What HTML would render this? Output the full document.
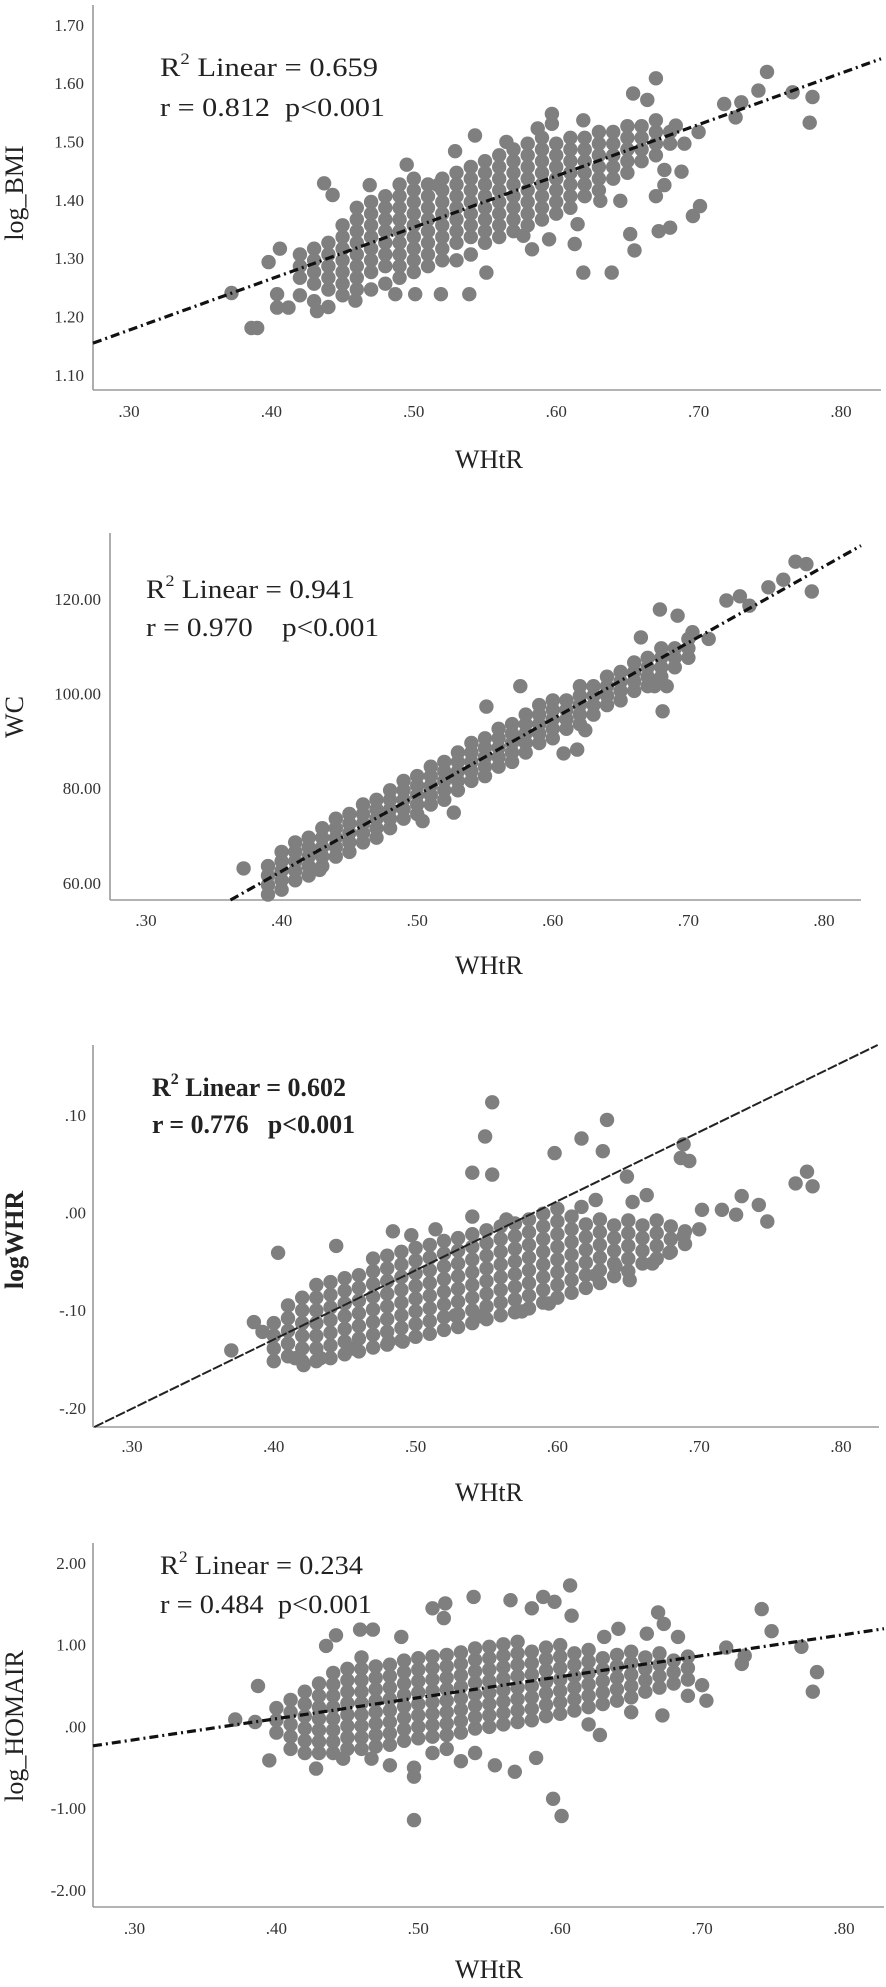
<!DOCTYPE html>
<html><head><meta charset="utf-8">
<style>
html,body{margin:0;padding:0;background:#fff;}
svg{display:block;}
text{font-family:"Liberation Serif",serif;fill:#222;}
.tick{font-size:17px;fill:#333;}
.ttl{font-size:26px;}
.ann{font-size:26px;}
</style></head>
<body>
<svg id="chart" width="886" height="1987" viewBox="0 0 886 1987" xmlns="http://www.w3.org/2000/svg"></svg>
<script>
// ---------- DATA ----------
const xTicks = [0.30,0.40,0.50,0.60,0.70,0.80];
const xTickLabels = [".30",".40",".50",".60",".70",".80"];

const bmiTicks = [1.10,1.20,1.30,1.40,1.50,1.60,1.70];
const bmiTickLabels = ["1.10","1.20","1.30","1.40","1.50","1.60","1.70"];
const bmiFit = [0.916, 0.881];
const bmiCols = [
[0.42,[1.24,1.27,1.29,1.31]],[0.43,[1.23,1.26,1.28,1.30,1.32]],[0.44,[1.22,1.25,1.27,1.29,1.31,1.33]],
[0.45,[1.24,1.26,1.28,1.30,1.32,1.34,1.36]],[0.46,[1.25,1.27,1.29,1.31,1.33,1.35,1.37,1.39]],
[0.47,[1.25,1.28,1.30,1.32,1.34,1.36,1.38,1.40]],[0.48,[1.26,1.29,1.31,1.33,1.35,1.37,1.39,1.41]],
[0.49,[1.27,1.29,1.31,1.33,1.35,1.37,1.39,1.41,1.43]],[0.50,[1.28,1.30,1.32,1.34,1.36,1.38,1.40,1.42,1.44]],
[0.51,[1.29,1.31,1.33,1.35,1.37,1.39,1.41,1.43]],[0.52,[1.30,1.32,1.34,1.36,1.38,1.40,1.42,1.44]],
[0.53,[1.30,1.33,1.35,1.37,1.39,1.41,1.43,1.45]],[0.54,[1.31,1.34,1.36,1.38,1.40,1.42,1.44,1.46]],
[0.55,[1.33,1.35,1.37,1.39,1.41,1.43,1.45,1.47]],[0.56,[1.34,1.36,1.38,1.40,1.42,1.44,1.46,1.48]],
[0.57,[1.35,1.37,1.39,1.41,1.43,1.45,1.47,1.49]],[0.58,[1.36,1.38,1.40,1.42,1.44,1.46,1.48,1.50]],
[0.59,[1.37,1.39,1.41,1.43,1.45,1.47,1.49,1.51]],[0.60,[1.38,1.40,1.42,1.44,1.46,1.48,1.50]],
[0.61,[1.39,1.41,1.43,1.45,1.47,1.49,1.51]],[0.62,[1.41,1.43,1.45,1.47,1.49,1.51]],
[0.63,[1.42,1.44,1.46,1.48,1.50,1.52]],[0.64,[1.44,1.46,1.48,1.50,1.52]],
[0.65,[1.45,1.47,1.49,1.51,1.53]],[0.66,[1.47,1.49,1.51,1.53]],[0.67,[1.48,1.50,1.52,1.54]],[0.68,[1.50,1.52]]
];
const bmiOutliers = [
[0.748,1.623],[0.670,1.612],[0.654,1.586],[0.664,1.575],[0.742,1.591],[0.766,1.588],[0.780,1.580],[0.778,1.536],
[0.718,1.568],[0.730,1.571],[0.726,1.545],[0.597,1.551],[0.619,1.540],[0.543,1.514],[0.565,1.503],[0.684,1.531],
[0.619,1.279],[0.639,1.279],[0.652,1.345],[0.655,1.317],[0.672,1.350],[0.680,1.356],[0.696,1.376],[0.701,1.393],
[0.676,1.429],[0.676,1.455],[0.688,1.452],[0.670,1.410],[0.645,1.402],[0.631,1.402],[0.615,1.362],[0.613,1.328],
[0.595,1.336],[0.583,1.319],[0.577,1.342],[0.551,1.279],[0.539,1.242],[0.519,1.242],[0.501,1.242],[0.487,1.242],
[0.459,1.231],[0.432,1.213],[0.412,1.219],[0.390,1.184],[0.386,1.184],[0.404,1.219],[0.404,1.242],[0.398,1.297],
[0.406,1.320],[0.372,1.244],[0.437,1.432],[0.443,1.412],[0.469,1.429],[0.495,1.464],[0.517,1.429],[0.529,1.487],
[0.587,1.526],[0.597,1.534],[0.690,1.500],[0.700,1.520]
];

const wcTicks = [60,80,100,120];
const wcTickLabels = ["60.00","80.00","100.00","120.00"];
const wcFit = [-1.5, 161];
const wcCols = [
[0.39,[58,60,62,64]],[0.40,[59,61,63,65,67]],[0.41,[61,63,65,67,69]],[0.42,[62,64,66,68,70]],
[0.43,[64,66,68,70,72]],[0.44,[66,68,70,72,74]],[0.45,[67,69,71,73,75]],[0.46,[69,71,73,75,77]],
[0.47,[70,72,74,76,78]],[0.48,[72,74,76,78,80]],[0.49,[74,76,78,80,82]],[0.50,[75,77,79,81,83]],
[0.51,[77,79,81,83,85]],[0.52,[78,80,82,84,86]],[0.53,[80,82,84,86,88]],[0.54,[82,84,86,88,90]],
[0.55,[83,85,87,89,91]],[0.56,[85,87,89,91,93]],[0.57,[86,88,90,92,94]],[0.58,[88,90,92,94,96]],
[0.59,[90,92,94,96,98]],[0.60,[91,93,95,97,99]],[0.61,[93,95,97,99]],[0.62,[94,96,98,100,102]],
[0.63,[96,98,100,102]],[0.64,[98,100,102,104]],[0.65,[99,101,103,105]],[0.66,[101,103,105,107]],
[0.67,[102,104,106,108]],[0.68,[104,106,108,110]],[0.69,[106,108,110]],[0.70,[108,110,112]]
];
const wcOutliers = [
[0.779,128.3],[0.787,127.8],[0.791,122.0],[0.728,120.1],[0.738,121.0],[0.759,122.9],[0.679,118.2],[0.692,116.9],
[0.684,102.0],[0.681,96.7],[0.675,102.0],[0.618,88.6],[0.624,92.7],[0.608,87.8],[0.527,75.3],[0.504,73.5],
[0.428,63.2],[0.372,63.5],[0.551,97.7],[0.576,102.0],[0.715,112.0],[0.703,113.4],[0.665,112.3],[0.745,119.0],[0.770,124.5]
];

const whrTicks = [-0.20,-0.10,0.00,0.10];
const whrTickLabels = ["-.20","-.10",".00",".10"];
const whrFit = [-0.411, 0.708];
const whrCols = [
[0.40,[-0.150,-0.137,-0.124,-0.111]],[0.41,[-0.145,-0.132,-0.119,-0.106,-0.093]],
[0.42,[-0.150,-0.137,-0.124,-0.111,-0.098,-0.085]],[0.43,[-0.150,-0.137,-0.124,-0.111,-0.098,-0.085,-0.072]],
[0.44,[-0.147,-0.134,-0.121,-0.108,-0.095,-0.082,-0.069]],[0.45,[-0.143,-0.130,-0.117,-0.104,-0.091,-0.078,-0.065]],
[0.46,[-0.140,-0.127,-0.114,-0.101,-0.088,-0.075,-0.062]],[0.47,[-0.136,-0.123,-0.110,-0.097,-0.084,-0.071,-0.058,-0.045]],
[0.48,[-0.133,-0.120,-0.107,-0.094,-0.081,-0.068,-0.055,-0.042]],[0.49,[-0.129,-0.116,-0.103,-0.090,-0.077,-0.064,-0.051,-0.038]],
[0.50,[-0.125,-0.112,-0.099,-0.086,-0.073,-0.060,-0.047,-0.034]],[0.51,[-0.122,-0.109,-0.096,-0.083,-0.070,-0.057,-0.044,-0.031]],
[0.52,[-0.118,-0.105,-0.092,-0.079,-0.066,-0.053,-0.040,-0.027]],[0.53,[-0.115,-0.102,-0.089,-0.076,-0.063,-0.050,-0.037,-0.024]],
[0.54,[-0.111,-0.098,-0.085,-0.072,-0.059,-0.046,-0.033,-0.020]],[0.55,[-0.107,-0.094,-0.081,-0.068,-0.055,-0.042,-0.029,-0.016]],
[0.56,[-0.103,-0.090,-0.077,-0.064,-0.051,-0.038,-0.025,-0.012]],[0.57,[-0.100,-0.087,-0.074,-0.061,-0.048,-0.035,-0.022,-0.009]],
[0.58,[-0.096,-0.083,-0.070,-0.057,-0.044,-0.031,-0.018,-0.005]],[0.59,[-0.090,-0.077,-0.064,-0.051,-0.038,-0.025,-0.012,0.001]],
[0.60,[-0.085,-0.072,-0.059,-0.046,-0.033,-0.020,-0.007,0.006]],[0.61,[-0.080,-0.067,-0.054,-0.041,-0.028,-0.015,-0.002]],
[0.62,[-0.075,-0.062,-0.049,-0.036,-0.023,-0.010]],[0.63,[-0.070,-0.057,-0.044,-0.031,-0.018,-0.005]],
[0.64,[-0.063,-0.050,-0.037,-0.024,-0.011]],[0.65,[-0.058,-0.045,-0.032,-0.019,-0.006]],
[0.66,[-0.050,-0.037,-0.024,-0.011]],[0.67,[-0.045,-0.032,-0.019,-0.006]],[0.68,[-0.038,-0.025,-0.012]],[0.69,[-0.030,-0.017]]
];
const whrOutliers = [
[0.554,0.115],[0.635,0.097],[0.549,0.080],[0.617,0.078],[0.598,0.063],[0.632,0.065],[0.540,0.043],[0.554,0.041],
[0.689,0.072],[0.687,0.058],[0.693,0.055],[0.649,0.039],[0.776,0.044],[0.768,0.032],[0.780,0.029],[0.730,0.019],
[0.742,0.010],[0.748,-0.007],[0.702,0.005],[0.716,0.005],[0.726,0.000],[0.700,-0.015],[0.663,0.020],[0.653,0.013],
[0.627,0.015],[0.617,0.008],[0.403,-0.039],[0.444,-0.032],[0.370,-0.139],[0.386,-0.110],[0.421,-0.154],[0.433,-0.147],
[0.540,-0.002],[0.564,-0.005],[0.514,-0.015],[0.497,-0.021],[0.484,-0.017],[0.528,-0.103],[0.546,-0.104],[0.575,-0.099],
[0.594,-0.091],[0.651,-0.067],[0.641,-0.053],[0.627,-0.062],[0.667,-0.050],[0.679,-0.039],[0.689,-0.022],[0.481,-0.130],
[0.491,-0.130],[0.455,-0.137],[0.392,-0.120],[0.415,-0.147]
];

const homaTicks = [-2,-1,0,1,2];
const homaTickLabels = ["-2.00","-1.00",".00","1.00","2.00"];
const homaFit = [-0.908, 2.57];
const homaCols = [
[0.40,[-0.05,0.10,0.25]],[0.41,[-0.25,-0.10,0.05,0.20,0.35]],[0.42,[-0.30,-0.15,0.00,0.15,0.30,0.45]],
[0.43,[-0.30,-0.16,-0.02,0.12,0.26,0.40,0.55]],[0.44,[-0.30,-0.16,-0.02,0.12,0.26,0.40,0.54,0.68]],
[0.45,[-0.25,-0.11,0.03,0.17,0.31,0.45,0.59,0.73]],[0.46,[-0.25,-0.11,0.03,0.17,0.31,0.45,0.59,0.73,0.87]],
[0.47,[-0.22,-0.08,0.06,0.20,0.34,0.48,0.62,0.76]],[0.48,[-0.20,-0.06,0.08,0.22,0.36,0.50,0.64,0.78]],
[0.49,[-0.15,-0.01,0.13,0.27,0.41,0.55,0.69,0.83]],[0.50,[-0.12,0.02,0.16,0.30,0.44,0.58,0.72,0.86]],
[0.51,[-0.30,-0.10,0.04,0.18,0.32,0.46,0.60,0.74,0.88]],[0.52,[-0.25,-0.08,0.06,0.20,0.34,0.48,0.62,0.76,0.90]],
[0.53,[-0.05,0.09,0.23,0.37,0.51,0.65,0.79,0.93]],[0.54,[0.00,0.14,0.28,0.42,0.56,0.70,0.84,0.98]],
[0.55,[0.02,0.16,0.30,0.44,0.58,0.72,0.86,1.00]],[0.56,[0.05,0.19,0.33,0.47,0.61,0.75,0.89,1.03]],
[0.57,[0.08,0.22,0.36,0.50,0.64,0.78,0.92,1.06]],[0.58,[0.10,0.24,0.38,0.52,0.66,0.80,0.94]],
[0.59,[0.15,0.29,0.43,0.57,0.71,0.85,0.99]],[0.60,[0.18,0.32,0.46,0.60,0.74,0.88,1.02]],
[0.61,[0.22,0.36,0.50,0.64,0.78,0.92]],[0.62,[0.26,0.40,0.54,0.68,0.82,0.96]],
[0.63,[0.30,0.44,0.58,0.72,0.86]],[0.64,[0.34,0.48,0.62,0.76,0.90]],[0.65,[0.38,0.52,0.66,0.80,0.94]],
[0.66,[0.45,0.59,0.73,0.87]],[0.67,[0.50,0.64,0.78,0.92]],[0.68,[0.55,0.69,0.83]],[0.69,[0.60,0.74,0.88]]
];
const homaOutliers = [
[0.607,1.75],[0.539,1.61],[0.565,1.57],[0.588,1.61],[0.596,1.55],[0.580,1.47],[0.510,1.47],[0.519,1.53],
[0.518,1.35],[0.608,1.38],[0.669,1.42],[0.673,1.28],[0.742,1.46],[0.749,1.19],[0.770,1.00],[0.781,0.69],
[0.778,0.45],[0.730,0.89],[0.728,0.79],[0.717,0.99],[0.703,0.34],[0.700,0.53],[0.672,0.16],[0.628,-0.08],
[0.583,-0.36],[0.568,-0.53],[0.554,-0.45],[0.497,-0.48],[0.497,-0.59],[0.595,-0.86],[0.601,-1.07],[0.497,-1.12],
[0.395,-0.39],[0.428,-0.49],[0.387,0.52],[0.371,0.11],[0.385,0.08],[0.447,-0.37],[0.467,-0.37],[0.459,1.21],
[0.468,1.21],[0.435,1.01],[0.442,1.14],[0.488,1.12],[0.641,1.22],[0.631,1.12],[0.683,1.12],[0.661,1.16],
[0.530,-0.40],[0.540,-0.30],[0.480,-0.45],[0.620,0.05],[0.650,0.20],[0.690,0.40]
];

// ---------- RENDER ----------
const NS = "http://www.w3.org/2000/svg";
const svg = document.getElementById("chart");
function mk(tag, attrs, parent){
  const e = document.createElementNS(NS, tag);
  for (const k in attrs) e.setAttribute(k, attrs[k]);
  (parent||svg).appendChild(e);
  return e;
}
function linScale(d0,d1,r0,r1){ return v => r0 + (v-d0)*(r1-r0)/(d1-d0); }

function panel(cfg){
  const g = mk("g", {});
  
  
  const sx = linScale(0.30,0.80,cfg.x30,cfg.x80);
  const sy = linScale(cfg.yv0,cfg.yv1,cfg.yp0,cfg.yp1);
  const ya = mk("line",{x1:cfg.left,y1:cfg.top,x2:cfg.left,y2:cfg.bottom,stroke:"#9a9a9a","stroke-width":1.6},g);
  
  
  const xa = mk("line",{x1:cfg.left,y1:cfg.bottom,x2:cfg.right,y2:cfg.bottom,stroke:"#9a9a9a","stroke-width":1.6},g);
  
  
  xTicks.forEach((t,i)=>{
    const tx = mk("text",{x:sx(t),y:cfg.xlabY,"text-anchor":"middle","dominant-baseline":"middle",class:"tick"},g);
    tx.textContent = xTickLabels[i];
    
    
  });
  cfg.yTicks.forEach((t,i)=>{
    const ty = mk("text",{x:cfg.ylabX,y:sy(t),"text-anchor":"end","dominant-baseline":"middle",class:"tick"},g);
    ty.textContent = cfg.yLabels[i];
    
    
  });
  const pts = [];
  cfg.cols.forEach(c => c[1].forEach(v => pts.push([c[0], v])));
  cfg.outliers.forEach(p => pts.push(p));
  pts.forEach(p=>{
    const c = mk("circle",{cx:sx(p[0]).toFixed(1),cy:sy(p[1]).toFixed(1),r:7.2,fill:"#7f7f7f"},g);
    
    
  });
  let xa0 = (cfg.left - cfg.x30)/(cfg.x80-cfg.x30)*0.5+0.30;
  let xa1 = (cfg.right - cfg.x30)/(cfg.x80-cfg.x30)*0.5+0.30;
  const f = x => cfg.fit[0] + cfg.fit[1]*x;
  const vBottom = cfg.yv0 + (cfg.bottom-cfg.yp0)*(cfg.yv1-cfg.yv0)/(cfg.yp1-cfg.yp0);
  const vTop = cfg.yv0 + (cfg.lineTop-cfg.yp0)*(cfg.yv1-cfg.yv0)/(cfg.yp1-cfg.yp0);
  if (f(xa0) < vBottom) xa0 = (vBottom - cfg.fit[0])/cfg.fit[1];
  if (f(xa1) > vTop) xa1 = (vTop - cfg.fit[0])/cfg.fit[1];
  const ln = mk("line",{x1:sx(xa0),y1:sy(f(xa0)),x2:sx(xa1),y2:sy(f(xa1)),stroke:cfg.lineColor,"stroke-width":cfg.lineW,"stroke-dasharray":cfg.dash},g);
  
  
  const xt = mk("text",{x:489,y:cfg.xTitleY,"text-anchor":"middle","dominant-baseline":"middle",class:"ttl"},g);
  xt.textContent = "WHtR";
  
  
  const yt = mk("text",{x:0,y:0,"text-anchor":"middle","dominant-baseline":"middle",class:"ttl",transform:`translate(${cfg.yTitleX},${cfg.yTitleY}) rotate(-90)`,"font-weight":cfg.bold?"bold":"normal"},g);
  yt.textContent = cfg.yTitle;
  
  
  const a1 = mk("text",{x:cfg.annX,y:cfg.ann1Y,"dominant-baseline":"middle",class:"ann",textLength:cfg.ann1W,lengthAdjust:"spacingAndGlyphs","font-weight":cfg.bold?"bold":"normal"},g);
  a1.innerHTML = 'R<tspan font-size="16" dy="-10">2</tspan><tspan dy="10"> Linear = ' + cfg.r2 + '</tspan>';
  
  
  const a2 = mk("text",{x:cfg.annX,y:cfg.ann2Y,"dominant-baseline":"middle",class:"ann",textLength:cfg.ann2W,lengthAdjust:"spacingAndGlyphs","font-weight":cfg.bold?"bold":"normal"},g);
  a2.textContent = cfg.rText;
  
  
}

panel({name:"panel-log-bmi",left:93,top:5,bottom:390,right:881,lineTop:30,x30:129,x80:841,
  yv0:1.10,yv1:1.70,yp0:377,yp1:27,xlabY:413,ylabX:84,yTicks:bmiTicks,yLabels:bmiTickLabels,
  cols:bmiCols,outliers:bmiOutliers,fit:bmiFit,lineColor:"#111",lineW:3.2,dash:"9,4,2,4",
  xTitleY:462,yTitle:"log_BMI",yTitleX:17,yTitleY:193,annX:160,ann1Y:70,ann2Y:110,ann1W:218,ann2W:225,
  r2:"0.659",rText:"r = 0.812\u00A0\u00A0p<0.001"});
panel({name:"panel-wc",left:110,top:533,bottom:900,right:861,lineTop:537,x30:146,x80:824,
  yv0:60,yv1:120,yp0:885,yp1:601,xlabY:922,ylabX:101,yTicks:wcTicks,yLabels:wcTickLabels,
  cols:wcCols,outliers:wcOutliers,fit:wcFit,lineColor:"#111",lineW:3.2,dash:"9,4,2,4",
  xTitleY:968,yTitle:"WC",yTitleX:17,yTitleY:717,annX:146,ann1Y:592,ann2Y:630,ann1W:209,ann2W:233,
  r2:"0.941",rText:"r = 0.970\u00A0\u00A0\u00A0\u00A0p<0.001"});
panel({name:"panel-log-whr",left:93,top:1045,bottom:1427,right:879,lineTop:1045,x30:132,x80:841,
  yv0:-0.20,yv1:0.10,yp0:1410,yp1:1117,xlabY:1448,ylabX:86,yTicks:whrTicks,yLabels:whrTickLabels,
  cols:whrCols,outliers:whrOutliers,fit:whrFit,lineColor:"#222",lineW:2,dash:"10,2",bold:true,
  xTitleY:1495,yTitle:"logWHR",yTitleX:17,yTitleY:1240,annX:152,ann1Y:1090,ann2Y:1127,ann1W:194,ann2W:203,
  r2:"0.602",rText:"r = 0.776\u00A0\u00A0\u00A0p<0.001"});
panel({name:"panel-log-homair",left:93,top:1543,bottom:1907,right:884,lineTop:1550,x30:134.5,x80:844,
  yv0:-2,yv1:2,yp0:1892,yp1:1565,xlabY:1930,ylabX:86,yTicks:homaTicks,yLabels:homaTickLabels,
  cols:homaCols,outliers:homaOutliers,fit:homaFit,lineColor:"#111",lineW:3.2,dash:"9,4,2,4",
  xTitleY:1972,yTitle:"log_HOMAIR",yTitleX:17,yTitleY:1726,annX:160,ann1Y:1568,ann2Y:1607,ann1W:203,ann2W:212,
  r2:"0.234",rText:"r = 0.484\u00A0\u00A0p<0.001"});
</script>
</body></html>
